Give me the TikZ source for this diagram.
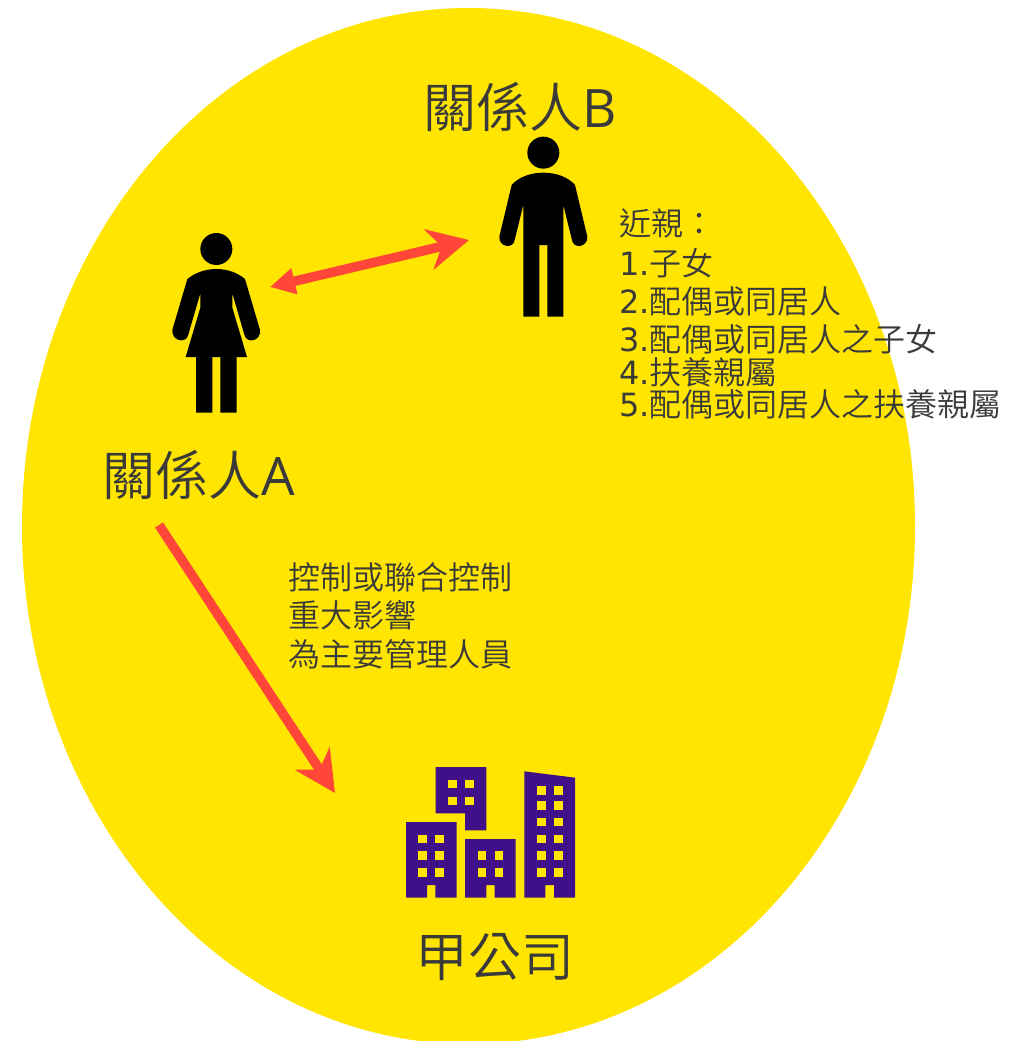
\documentclass[tikz,border=0pt]{standalone}
\usepackage{fontspec}
\usetikzlibrary{arrows.meta}
\setmainfont{Noto Sans CJK TC DemiLight}
\newfontfamily\latinf{Open Sans}
\newfontfamily\latins{DejaVu Sans}
\definecolor{bgyellow}{HTML}{FFE500}
\definecolor{redarrow}{HTML}{FF4638}
\definecolor{bldg}{HTML}{3F1087}
\definecolor{txt}{HTML}{3A3A3A}
\tikzset{
  biglabel/.style={font=\fontsize{53}{53}\selectfont,text=txt,inner sep=0pt,anchor=base west},
  smalllabel/.style={font=\fontsize{32}{32}\selectfont,text=txt,inner sep=0pt,anchor=base west},
  link/.style={draw=redarrow,line width=9.5pt},
}
\newcommand{\win}[2]{\fill[bgyellow] (#1,#2) rectangle +(26,26);}
\begin{document}
\begin{tikzpicture}[x=1pt,y=-1pt]
\useasboundingbox (0,0) rectangle (1025,1041);
\begin{scope}
\clip (0,0) rectangle (1025,1041);
\fill[bgyellow] (468.5,526) ellipse [x radius=446.5pt,y radius=518pt];
\end{scope}
% man
\begin{scope}[shift={(160,130)},x=1/3*1pt,y=-1/3*1pt]
\fill (1150,68) circle [radius=16pt];
\fill (1150,128) .. controls (1190,128) and (1225,142) .. (1245,165) -- (1282,320)
  .. controls (1284,352) and (1240,358) .. (1236,330) -- (1210,225) -- (1210,560) -- (1162,560) -- (1162,345) -- (1138,345) -- (1138,560) -- (1090,560) -- (1090,225) -- (1064,330)
  .. controls (1060,358) and (1016,352) .. (1018,320) -- (1055,165) .. controls (1075,142) and (1110,128) .. (1150,128) -- cycle;
% woman
\fill (169,357) circle [radius=16pt];
\fill (169,417) .. controls (205,417) and (235,430) .. (255,447) -- (300,600)
  .. controls (304,632) and (262,642) .. (254,617) -- (217,490) -- (217,533) -- (261,681) -- (230,681) -- (230,848) -- (181,848) -- (181,681) -- (157,681) -- (157,848) -- (108,848) -- (108,681) -- (77,681) -- (121,533) -- (121,490) -- (84,617)
  .. controls (76,642) and (34,632) .. (37,600) -- (82,447) .. controls (103,430) and (133,417) .. (169,417) -- cycle;
\end{scope}
% building
\begin{scope}[shift={(400,760)},x=1/3*1pt,y=-1/3*1pt]
\fill[bldg] (107,21) -- (259,21) -- (259,211) -- (195,211) -- (195,160) -- (107,160) -- cycle;
\fill[bldg] (18,186) -- (170,186) -- (170,413) -- (106,413) -- (106,375) -- (81,375) -- (81,413) -- (18,413) -- cycle;
\fill[bldg] (195,237) -- (347,237) -- (347,413) -- (284,413) -- (284,375) -- (259,375) -- (259,413) -- (195,413) -- cycle;
\fill[bldg] (373,34) -- (525,53) -- (525,413) -- (462,413) -- (462,375) -- (436,375) -- (436,413) -- (373,413) -- cycle;
\foreach \x in {144,195}\foreach \y in {59,110}{\win{\x}{\y}}
\foreach \x in {55,106}\foreach \y in {224,274,325}{\win{\x}{\y}}
\foreach \x in {233,284}\foreach \y in {274,325}{\win{\x}{\y}}
\foreach \x in {411,462}\foreach \y in {78,123,173,224,274,325}{\win{\x}{\y}}
\end{scope}
% labels
\node[biglabel] (lblB) at (423,127) {關係人{\latinf B}};
\node[biglabel] (lblA) at (102,495) {關係人{\latinf A}};
\node[biglabel] (lblC) at (415,976) {甲公司};
\node[smalllabel] (kin0) at (619,235) {近親：};
\node[smalllabel] (kin1) at (619,275) {{\latins 1.}子女};
\node[smalllabel] (kin2) at (619,313) {{\latins 2.}配偶或同居人};
\node[smalllabel] (kin3) at (619,351) {{\latins 3.}配偶或同居人之子女};
\node[smalllabel] (kin4) at (619,384) {{\latins 4.}扶養親屬};
\node[smalllabel] (kin5) at (619,416) {{\latins 5.}配偶或同居人之扶養親屬};
\node[smalllabel] (ctl1) at (288,589) {控制或聯合控制};
\node[smalllabel] (ctl2) at (288,627) {重大影響};
\node[smalllabel] (ctl3) at (288,666) {為主要管理人員};
% connectors
\coordinate (a1) at (270,287);
\coordinate (a2) at (469,240);
\coordinate (b1) at (159,525);
\coordinate (b2) at (335,793);
\draw[link,{Stealth[length=25pt,width=25pt,inset=0pt]}-{Stealth[length=41pt,width=41pt,inset=13pt]}] (a1) -- (a2);
\draw[link,-{Stealth[length=41pt,width=41pt,inset=13pt]}] (b1) -- (b2);
\end{tikzpicture}
\end{document}
